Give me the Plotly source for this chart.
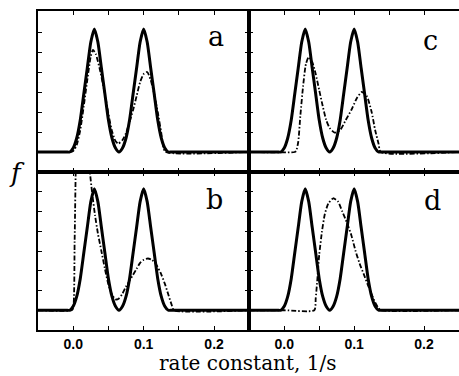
import plotly.graph_objects as go

# ---------------- data ----------------
# rate constant grid of the "true" distribution (solid curve, same in all panels)
k_true = [-0.05, -0.01, -0.005, 0.0, 0.005, 0.01, 0.015, 0.02, 0.025, 0.03,
          0.035, 0.04, 0.045, 0.05, 0.055, 0.06, 0.065, 0.07, 0.075, 0.08,
          0.085, 0.09, 0.095, 0.1, 0.105, 0.11, 0.115, 0.12, 0.125, 0.13,
          0.135, 0.14, 0.25]
f_true = [0, 0, 0, 0.2, 0.7, 1.6, 2.9, 4.2, 5.5, 6.15,
          5.5, 4.2, 2.9, 1.6, 0.7, 0.2, 0.0, 0.2, 0.7, 1.6,
          2.9, 4.2, 5.5, 6.15, 5.5, 4.2, 2.9, 1.6, 0.7, 0.2,
          0.0, 0, 0]

# recovered distributions (dash-dot curves)
k_a = [-0.05, -0.005, 0.0, 0.005, 0.01, 0.015, 0.02, 0.025, 0.028, 0.032,
       0.038, 0.045, 0.05, 0.055, 0.06, 0.064, 0.07, 0.075, 0.08, 0.085,
       0.09, 0.095, 0.1, 0.105, 0.11, 0.115, 0.12, 0.125, 0.128, 0.131, 0.25]
f_a = [0, 0, 0.05, 0.35, 1.1, 2.3, 3.6, 4.8, 5.1, 4.9,
       4.1, 2.9, 1.9, 1.05, 0.55, 0.42, 0.6, 0.95, 1.5, 2.1,
       2.8, 3.5, 3.9, 4.0, 3.6, 2.9, 2.0, 0.95, 0.25, 0, 0]

k_b = [-0.05, -0.002, 0.0, 0.002, 0.004, 0.008, 0.013, 0.018, 0.021, 0.023,
       0.027, 0.031, 0.035, 0.04, 0.045, 0.05, 0.055, 0.06, 0.065, 0.07,
       0.075, 0.08, 0.085, 0.09, 0.095, 0.1, 0.106, 0.112, 0.118, 0.124,
       0.13, 0.135, 0.14, 0.143, 0.25]
f_b = [0, 0, 0.1, 3.5, 8.0, 13.0, 15.0, 13.0, 10.0, 7.3,
       5.9, 4.8, 3.9, 3.0, 2.1, 1.3, 0.8, 0.55, 0.6, 0.85,
       1.2, 1.5, 1.8, 2.1, 2.4, 2.55, 2.62, 2.55, 2.3, 1.9,
       1.35, 0.8, 0.25, 0, 0]

k_c = [-0.05, 0.015, 0.017, 0.02, 0.023, 0.027, 0.031, 0.035, 0.04, 0.045,
       0.05, 0.055, 0.06, 0.065, 0.072, 0.08, 0.088, 0.096, 0.104, 0.111,
       0.118, 0.125, 0.13, 0.135, 0.138, 0.25]
f_c = [0, 0, 0.05, 0.5, 1.8, 3.3, 4.4, 4.75, 4.5, 3.9,
       3.1, 2.3, 1.6, 1.2, 0.97, 1.1, 1.6, 2.1, 2.7, 3.0,
       2.8, 2.0, 1.1, 0.4, 0, 0]

k_d = [-0.05, 0.0, 0.043, 0.045, 0.047, 0.05, 0.054, 0.058, 0.063, 0.07,
       0.077, 0.083, 0.09, 0.096, 0.102, 0.108, 0.114, 0.12, 0.125, 0.13,
       0.135, 0.138, 0.25]
f_d = [0, 0, 0, 0.6, 1.4, 2.8, 4.0, 4.86, 5.4, 5.67,
       5.5, 5.0, 4.4, 3.8, 3.0, 2.35, 1.8, 1.25, 0.8, 0.4,
       0.1, 0, 0]

panel_labels = ["a", "b", "c", "d"]
x_tickvals = [0.0, 0.05, 0.1, 0.15, 0.2]
x_ticktext = ["0.0", "", "0.1", "", "0.2"]
y_tickvals = [1, 2, 3, 4, 5, 6]
x_title = "rate constant, 1/s"
y_title = "f"

# ---------------- figure ----------------
W, H = 459, 376
ML, MR, MT, MB = 38, 0, 11, 46
PW, PH = W - ML - MR, H - MT - MB

def px(x):
    return (x - ML) / PW

def py(y):
    return (H - MB - y) / PH

xsplit = px(249.3)
ysplit = py(172)

fig = go.Figure()

panels = [
    ("a", "x", "y", [0, xsplit], [ysplit, 1], [-1.0, 7.05], k_a, f_a),
    ("b", "x2", "y2", [0, xsplit], [0, ysplit], [-1.0, 7.0], k_b, f_b),
    ("c", "x3", "y3", [xsplit, 1], [ysplit, 1], [-1.0, 7.05], k_c, f_c),
    ("d", "x4", "y4", [xsplit, 1], [0, ysplit], [-1.0, 7.0], k_d, f_d),
]

dash_style = "5px,2px,1.5px,2px"

for name, xa, ya, xd, yd, yr, kk, ff in panels:
    fig.add_trace(go.Scatter(x=kk, y=ff, xaxis=xa, yaxis=ya, mode="lines",
                             line=dict(color="black", width=1.8, dash=dash_style,
                                       shape="spline", smoothing=0.6),
                             showlegend=False, hoverinfo="skip"))
    fig.add_trace(go.Scatter(x=k_true, y=f_true, xaxis=xa, yaxis=ya, mode="lines",
                             line=dict(color="black", width=3,
                                       shape="spline", smoothing=0.6),
                             showlegend=False, hoverinfo="skip"))
    bottom = name in ("b", "d")
    right = name in ("c", "d")
    xkey = "xaxis" + xa[1:]
    ykey = "yaxis" + ya[1:]
    fig.layout[xkey] = dict(
        domain=xd, range=[-0.05, 0.25], anchor=ya,
        showline=True, linewidth=2, linecolor="black", mirror="ticks",
        ticks="inside", ticklen=4, tickwidth=1, tickcolor="black",
        tickvals=x_tickvals, ticktext=x_ticktext,
        showticklabels=bottom, showgrid=False, zeroline=False,
        tickfont=dict(family="Liberation Sans", size=14, color="black", weight="bold"),
        ticklabelstandoff=0,
    )
    fig.layout[ykey] = dict(
        domain=yd, range=yr, anchor=xa,
        showline=True, linewidth=2, linecolor="black",
        mirror=False if right else "ticks",
        ticks="inside", ticklen=4, tickwidth=1, tickcolor="black",
        tickvals=y_tickvals, showticklabels=False,
        showgrid=False, zeroline=False,
    )

label_pos = {"a": (216, 37), "c": (430, 40), "b": (214, 199), "d": (432, 200)}
for lab in panel_labels:
    x0, y0 = label_pos[lab]
    fig.add_annotation(x=px(x0), y=py(y0), xref="paper", yref="paper",
                       text=lab, showarrow=False, xanchor="center", yanchor="middle",
                       font=dict(family="DejaVu Serif", size=27, color="black"))

fig.add_annotation(x=px(247), y=py(376), xref="paper", yref="paper",
                   text=x_title, showarrow=False, xanchor="center", yanchor="bottom",
                   borderpad=0,
                   font=dict(family="DejaVu Serif", size=20, color="black"))
fig.add_annotation(x=px(17), y=py(173), xref="paper", yref="paper",
                   text="<i>" + y_title + "</i>", showarrow=False,
                   xanchor="center", yanchor="middle",
                   font=dict(family="DejaVu Serif", size=26, color="black"))

fig.update_layout(width=W, height=H,
                  margin=dict(l=ML, r=MR, t=MT, b=MB, pad=0),
                  paper_bgcolor="white", plot_bgcolor="white",
                  showlegend=False)

fig.write_html("out.html",
               config={"displayModeBar": False},
               post_script="document.body.style.margin='0px';"
                           "document.body.style.padding='0px';"
                           "document.body.style.overflow='hidden';")
